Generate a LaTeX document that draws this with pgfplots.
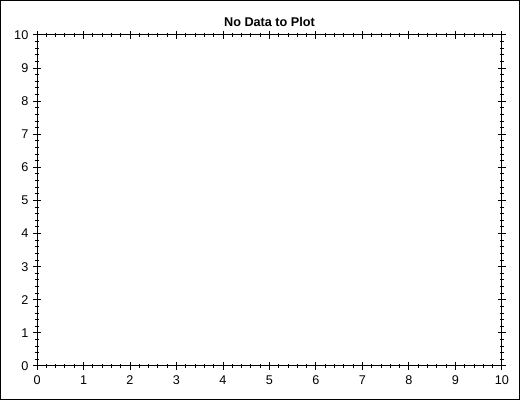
\documentclass[border=0pt]{standalone}
\usepackage{pgfplots}
\pgfplotsset{compat=1.18}
\usepackage{fontspec}
\setmainfont{Liberation Sans}
\begin{document}
\begin{tikzpicture}
\draw[line width=0.75pt] (-27.4pt,-25.1pt) rectangle (361.9pt,274.1pt);
\useasboundingbox (-27.75pt,-25.5pt) rectangle (362.25pt,274.5pt);
\begin{axis}[at={(0,0)},anchor=south west,scale only axis,
 width=348.75pt,height=248.25pt,
 xmin=0,xmax=10,ymin=0,ymax=10,
 xtick={0,...,10},ytick={0,...,10},
 minor tick num=4,
 tick align=center,
 major tick length=6pt,minor tick length=3.5pt,
 tick style={black,line width=0.75pt},
 axis line style={line width=0.75pt},
 /pgf/number format/assume math mode=true,
 ticklabel style={font=\fontsize{9.5}{11}\selectfont},
 xticklabel style={yshift=-1pt},
 title={\bfseries No Data to Plot},
 title style={font=\fontsize{9.5}{11}\selectfont,yshift=-3pt},
]
\addplot[draw=none] coordinates {(0,0)};
\end{axis}
\end{tikzpicture}
\end{document}
